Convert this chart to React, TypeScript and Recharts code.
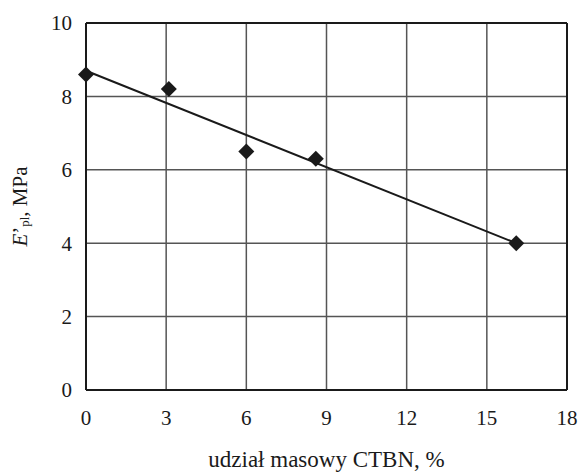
import {
  ScatterChart,
  Scatter,
  XAxis,
  YAxis,
  CartesianGrid,
  ReferenceLine,
} from 'recharts'

const ctbnShare = [0, 3.1, 6, 8.6, 16.1]
const modulus = [8.6, 8.2, 6.5, 6.3, 4.0]

const trendX = [0, 16.1]
const trendY = [8.7, 4.0]

const xTicks = [0, 3, 6, 9, 12, 15, 18]
const yTicks = [0, 2, 4, 6, 8, 10]

const points = ctbnShare.map((x, i) => ({ x, y: modulus[i] }))
const trend = trendX.map((x, i) => ({ x, y: trendY[i] }))

const font = '"Liberation Serif", "DejaVu Serif", serif'
const ink = '#1a1a1a'

// eslint-disable-next-line @typescript-eslint/no-explicit-any
function Diamond({ cx, cy }: any) {
  if (cx == null || cy == null) return null
  const r = 8
  return (
    <polygon
      points={`${cx},${cy - r} ${cx + r},${cy} ${cx},${cy + r} ${cx - r},${cy}`}
      fill={ink}
    />
  )
}

// eslint-disable-next-line @typescript-eslint/no-explicit-any
function YLabel({ viewBox }: any) {
  if (!viewBox) return null
  const x = viewBox.x + 20
  const y = viewBox.y + viewBox.height / 2
  return (
    <text
      x={x}
      y={y}
      transform={`rotate(-90, ${x}, ${y})`}
      textAnchor="middle"
      dominantBaseline="central"
      fontFamily={font}
      fontSize={21}
      fill={ink}
    >
      <tspan fontStyle="italic">E</tspan>
      <tspan>’</tspan>
      <tspan fontSize={13} dy={4}>pl</tspan>
      <tspan dy={-4}>, MPa</tspan>
    </text>
  )
}

export default function App() {
  return (
    <div style={{ position: 'absolute', left: 0, top: 0, background: '#fff' }}>
      <ScatterChart
        width={581}
        height={474}
        margin={{ top: 23, right: 14, bottom: 0, left: 0 }}
      >
        <CartesianGrid stroke="#555" strokeWidth={1.5} />
        <XAxis
          type="number"
          dataKey="x"
          domain={[0, 18]}
          ticks={xTicks}
          height={84}
          tickLine={false}
          tickSize={0}
          tickMargin={20}
          axisLine={{ stroke: ink, strokeWidth: 2 }}
          tick={{ fontFamily: font, fontSize: 21, fill: ink }}
          label={{
            value: 'udział masowy CTBN, %',
            position: 'insideBottom',
            offset: 7,
            style: { fontFamily: font, fontSize: 23, fill: ink },
          }}
        />
        <YAxis
          type="number"
          dataKey="y"
          domain={[0, 10]}
          ticks={yTicks}
          width={86}
          tickLine={false}
          tickSize={0}
          tickMargin={14}
          axisLine={{ stroke: ink, strokeWidth: 2 }}
          tick={{ fontFamily: font, fontSize: 21, fill: ink }}
          label={<YLabel />}
        />
        <ReferenceLine y={10} stroke={ink} strokeWidth={2} />
        <ReferenceLine x={18} stroke={ink} strokeWidth={2} />
        <Scatter
          data={trend}
          line={{ stroke: ink, strokeWidth: 2 }}
          shape={() => null}
          isAnimationActive={false}
        />
        <Scatter data={points} shape={<Diamond />} isAnimationActive={false} />
      </ScatterChart>
    </div>
  )
}
